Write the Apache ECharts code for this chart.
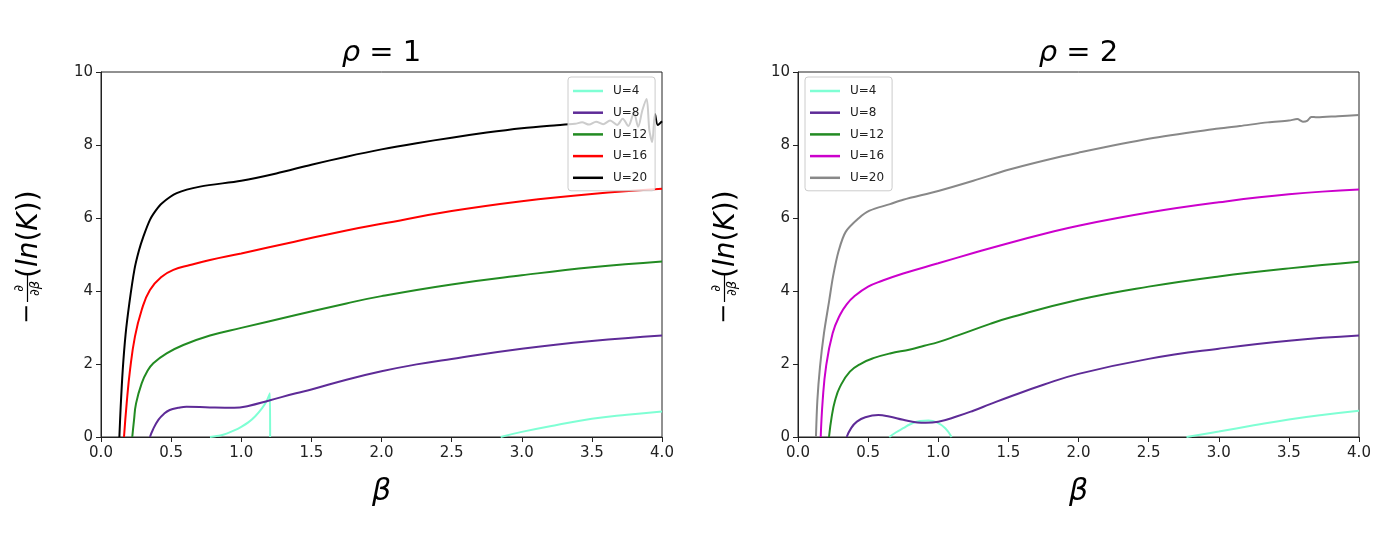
<!DOCTYPE html>
<html>
<head>
    <meta charset="utf-8">
    <title>ECharts</title>
    <script src="https://cdn.jsdelivr.net/npm/echarts@6/dist/echarts.min.js"></script>
</head>
<body style="margin:0;background:#fff;">
<div id="main" style="width: 1390px;height:538px;"></div>
<script type="text/javascript">

        // ---- data: [beta, value] ----
        // rho = 1
        var r1U4a = [[0.777,0],[0.85,0.04],[0.9,0.1],[0.95,0.18],[1.0,0.28],[1.05,0.4],[1.1,0.57],[1.15,0.8],[1.18,0.98],[1.205,1.2],[1.206,0]];
        var r1U4b = [[2.85,0],[3.0,0.14],[3.25,0.33],[3.5,0.5],[3.75,0.61],[4.0,0.7]];
        var r1U8 = [[0.349,0],[0.37,0.2],[0.409,0.47],[0.45,0.64],[0.49,0.74],[0.55,0.8],[0.61,0.83],[0.777,0.81],[0.95,0.8],[1.05,0.85],[1.2,1.0],[1.39,1.2],[1.5,1.3],[1.75,1.57],[2.0,1.8],[2.25,1.99],[2.5,2.14],[3.0,2.42],[3.5,2.63],[4.0,2.78]];
        var r1U12 = [[0.223,0],[0.235,0.45],[0.25,0.92],[0.29,1.47],[0.33,1.8],[0.373,2.02],[0.468,2.29],[0.587,2.52],[0.777,2.78],[1.0,2.99],[1.39,3.34],[1.75,3.66],[2.0,3.86],[2.5,4.18],[3.0,4.43],[3.5,4.65],[4.0,4.81]];
        var r1U16 = [[0.164,0],[0.183,0.92],[0.207,1.84],[0.242,2.75],[0.29,3.48],[0.349,4.03],[0.433,4.39],[0.516,4.58],[0.635,4.71],[0.777,4.85],[1.0,5.03],[1.38,5.35],[1.75,5.66],[2.0,5.84],[2.5,6.19],[3.0,6.46],[3.5,6.66],[4.0,6.8]];
        var r1U20 = [[0.131,0],[0.14,0.8],[0.155,1.84],[0.175,2.8],[0.202,3.66],[0.238,4.58],[0.27,5.1],[0.302,5.49],[0.349,5.95],[0.39,6.2],[0.433,6.4],[0.54,6.68],[0.706,6.86],[1.0,7.02],[1.25,7.22],[1.5,7.46],[1.75,7.68],[2.0,7.88],[2.25,8.05],[2.5,8.2],[2.75,8.34],[3.0,8.46],[3.2,8.53],[3.38,8.58],[3.43,8.62],[3.48,8.56],[3.53,8.64],[3.58,8.57],[3.63,8.67],[3.68,8.55],[3.72,8.72],[3.76,8.52],[3.8,8.88],[3.83,8.5],[3.86,8.95],[3.89,9.26],[3.91,8.4],[3.93,8.08],[3.95,8.85],[3.97,8.55],[4.0,8.65]];
        // rho = 2
        var r2U4a = [[0.651,0],[0.7,0.13],[0.75,0.24],[0.8,0.35],[0.87,0.44],[0.93,0.45],[0.99,0.4],[1.05,0.24],[1.095,0]];
        var r2U4b = [[2.77,0],[3.0,0.15],[3.25,0.32],[3.5,0.48],[3.75,0.61],[4.0,0.72]];
        var r2U8 = [[0.347,0],[0.38,0.25],[0.42,0.42],[0.48,0.54],[0.573,0.6],[0.65,0.56],[0.75,0.47],[0.85,0.4],[0.91,0.39],[1.0,0.42],[1.13,0.56],[1.25,0.72],[1.37,0.9],[1.5,1.09],[1.75,1.43],[2.0,1.73],[2.5,2.14],[3.0,2.42],[3.5,2.64],[4.0,2.78]];
        var r2U12 = [[0.221,0],[0.24,0.55],[0.264,1.0],[0.3,1.38],[0.37,1.79],[0.454,2.02],[0.537,2.16],[0.656,2.29],[0.8,2.4],[0.9,2.5],[1.0,2.6],[1.13,2.77],[1.37,3.1],[1.5,3.26],[2.0,3.76],[2.5,4.12],[3.0,4.4],[3.5,4.62],[4.0,4.8]];
        var r2U16 = [[0.162,0],[0.176,1.0],[0.2,1.93],[0.247,2.84],[0.3,3.35],[0.35,3.65],[0.4,3.85],[0.5,4.12],[0.6,4.28],[0.75,4.48],[1.0,4.76],[1.25,5.04],[1.5,5.31],[1.75,5.56],[2.0,5.79],[2.5,6.15],[3.0,6.43],[3.5,6.65],[4.0,6.78]];
        var r2U20 = [[0.128,0],[0.138,1.0],[0.157,1.93],[0.185,2.84],[0.223,3.75],[0.25,4.4],[0.29,5.1],[0.34,5.62],[0.435,6.0],[0.51,6.2],[0.656,6.38],[0.75,6.5],[1.0,6.74],[1.25,7.02],[1.5,7.32],[1.75,7.57],[2.0,7.79],[2.5,8.17],[3.0,8.45],[3.15,8.52],[3.35,8.62],[3.5,8.67],[3.56,8.71],[3.6,8.64],[3.63,8.66],[3.66,8.77],[3.7,8.76],[3.85,8.79],[4.0,8.82]];

        var uLabels = ['U=4', 'U=8', 'U=12', 'U=16', 'U=20'];
        var colors1 = ['#7fffd4', '#5e2b97', '#228b22', '#ff0000', '#000000'];
        var colors2 = ['#7fffd4', '#5e2b97', '#228b22', '#cc00cc', '#888888'];
        var titles = ['1', '2'];

        var FONT = 'DejaVu Sans';

        function names(p) {
            return uLabels.map(function (u) { return p + ' ' + u; });
        }

        function mkSeries(idx, name, color, data, sm) {
            return {
                name: name,
                type: 'line',
                xAxisIndex: idx,
                yAxisIndex: idx,
                data: data,
                symbol: 'none',
                showSymbol: false,
                smooth: sm === undefined ? 0.45 : sm,
                clip: true,
                color: color,
                lineStyle: {width: 2, color: color},
                itemStyle: {color: color},
                z: 2
            };
        }

        function mkAxes(idx) {
            var common = {
                gridIndex: idx,
                type: 'value',
                axisLine: {show: true, onZero: false, lineStyle: {color: '#222', width: 1}},
                axisTick: {show: true, inside: false, length: 5, lineStyle: {color: '#222'}},
                splitLine: {show: false}
            };
            var x = Object.assign({}, common, {
                min: 0, max: 4, interval: 0.5,
                axisLabel: {fontFamily: FONT, fontSize: 15, color: '#222', margin: 9,
                    formatter: function (v) { return v.toFixed(1); }}
            });
            var y = Object.assign({}, common, {
                min: 0, max: 10, interval: 2,
                axisLabel: {fontFamily: FONT, fontSize: 15, color: '#222', margin: 8}
            });
            return [x, y];
        }

        function mkLegend(idx, left) {
            return {
                orient: 'vertical',
                left: left,
                top: 77,
                data: names(idx === 0 ? 'a' : 'b'),
                formatter: function (n) { return n.split(' ')[1]; },
                icon: 'rect',
                itemWidth: 30,
                itemHeight: 2.5,
                itemGap: 9.7,
                padding: [8, 8, 7, 5],
                backgroundColor: 'rgba(255,255,255,0.8)',
                borderColor: '#cccccc',
                borderWidth: 1,
                borderRadius: 3,
                selectedMode: false,
                textStyle: {fontFamily: FONT, fontSize: 12, lineHeight: 12, color: '#222', padding: [0, 0, 0, 5]},
                z: 10
            };
        }

        function yLabel(x0) {
            return {
                type: 'group', x: x0, y: 322, rotation: Math.PI / 2, silent: true,
                children: [
                    {type: 'text', x: -2, y: -14,
                        style: {text: '\u2212', fontSize: 24, fontFamily: FONT, fill: '#000', verticalAlign: 'middle'}},
                    {type: 'line', shape: {x1: 20, y1: -14.5, x2: 47, y2: -14.5},
                        style: {stroke: '#000', lineWidth: 1.2}},
                    {type: 'text', x: 33.5, y: -16,
                        style: {text: '\u2202', fontSize: 13, fontFamily: FONT, fill: '#000', align: 'center', verticalAlign: 'bottom'}},
                    {type: 'text', x: 33.5, y: -13,
                        style: {text: '\u2202{i|\u03b2}', fontSize: 13, fontFamily: FONT, fill: '#000', align: 'center', verticalAlign: 'top',
                            rich: {i: {fontStyle: 'italic', fontSize: 13, fontFamily: FONT, fill: '#000'}}}},
                    {type: 'text', x: 44, y: -12,
                        style: {text: '({i|ln}({i|K}))', fontSize: 28, fontFamily: FONT, fill: '#000', verticalAlign: 'middle',
                            rich: {i: {fontStyle: 'italic', fontSize: 28, fontFamily: FONT, fill: '#000'}}}}
                ]
            };
        }

        function titleText(cx, t) {
            return {
                type: 'text', x: cx, y: 53, silent: true,
                style: {text: '{i|\u03c1} = ' + t, fontSize: 29, fontFamily: FONT, fill: '#000', align: 'center', verticalAlign: 'middle',
                    rich: {i: {fontStyle: 'italic', fontSize: 29, fontFamily: FONT, fill: '#000'}}}
            };
        }

        function betaText(cx) {
            return {
                type: 'text', x: cx, y: 492, silent: true,
                style: {text: '\u03b2', fontSize: 30, fontStyle: 'italic', fontFamily: FONT, fill: '#000', align: 'center', verticalAlign: 'middle'}
            };
        }

        var n1 = names('a'), n2 = names('b');
        var series = [
            mkSeries(0, n1[0], colors1[0], r1U4a, 0.2),
            mkSeries(0, n1[0], colors1[0], r1U4b),
            mkSeries(0, n1[1], colors1[1], r1U8),
            mkSeries(0, n1[2], colors1[2], r1U12),
            mkSeries(0, n1[3], colors1[3], r1U16),
            mkSeries(0, n1[4], colors1[4], r1U20, 0.3),
            mkSeries(1, n2[0], colors2[0], r2U4a),
            mkSeries(1, n2[0], colors2[0], r2U4b),
            mkSeries(1, n2[1], colors2[1], r2U8),
            mkSeries(1, n2[2], colors2[2], r2U12),
            mkSeries(1, n2[3], colors2[3], r2U16),
            mkSeries(1, n2[4], colors2[4], r2U20, 0.3)
        ];

        var ax0 = mkAxes(0), ax1 = mkAxes(1);

        var option = {
            animation: false,
            backgroundColor: '#ffffff',
            grid: [
                {left: 101, right: 728, top: 72, bottom: 101, show: true, borderColor: '#222', borderWidth: 1, backgroundColor: 'transparent'},
                {left: 798, right: 31, top: 72, bottom: 101, show: true, borderColor: '#222', borderWidth: 1, backgroundColor: 'transparent'}
            ],
            xAxis: [ax0[0], ax1[0]],
            yAxis: [ax0[1], ax1[1]],
            legend: [mkLegend(0, 568), mkLegend(1, 805)],
            graphic: [
                titleText(381.5, titles[0]),
                titleText(1078.5, titles[1]),
                betaText(381.5),
                betaText(1078.5),
                yLabel(42),
                yLabel(739)
            ],
            series: series
        };

        var myChart = echarts.init(document.getElementById('main'));
        myChart.setOption(option);

</script>
</body>
</html>
